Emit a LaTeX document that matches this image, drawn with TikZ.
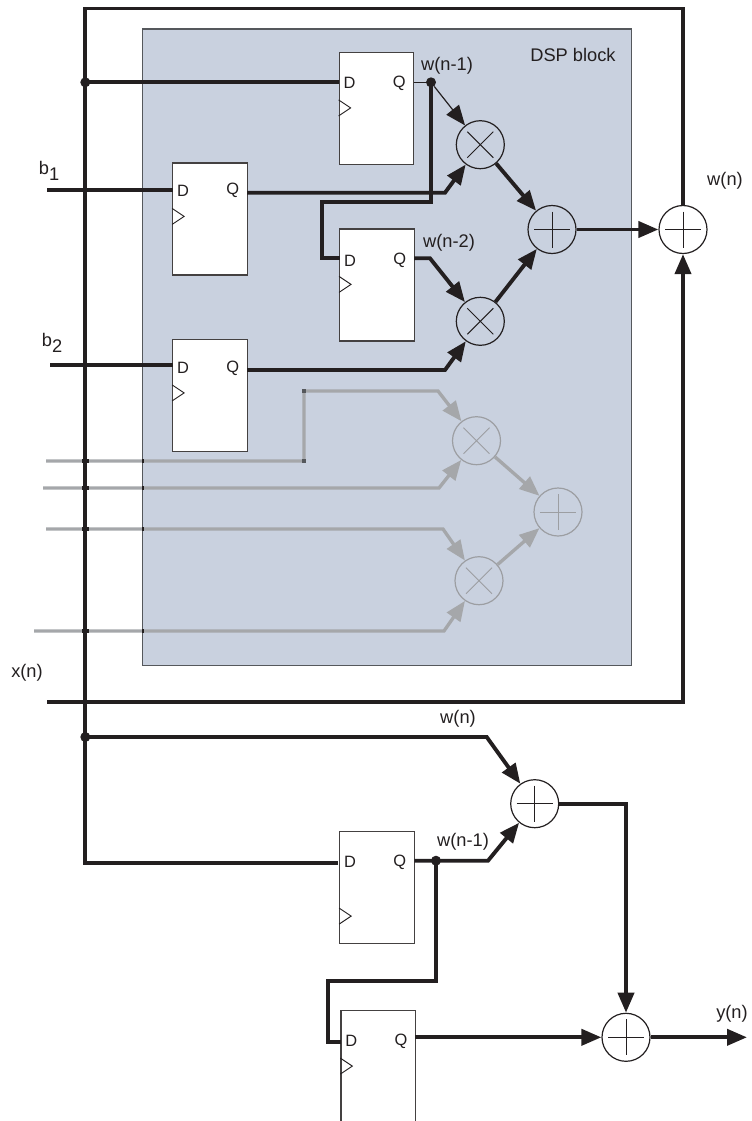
\documentclass[tikz,border=0pt]{standalone}
\usepackage{fontspec}
\setmainfont{Liberation Sans}
\usepackage{tikz}
\usetikzlibrary{arrows.meta,calc}
\definecolor{ink}{HTML}{231F20}
\definecolor{dspfill}{HTML}{C9D1DF}
\definecolor{dspedge}{HTML}{55585C}
\definecolor{ghost}{HTML}{A5A7AA}
\definecolor{ghostline}{HTML}{9C9EA2}
\newcommand{\lowdigit}[1]{\raisebox{-5pt}{#1}}

\begin{document}
\begin{tikzpicture}[x=0.75pt,y=-0.75pt,
  ff/.style={rectangle,draw=ink!85,line width=0.9pt,fill=white,minimum width=55.9pt,
             minimum height=84pt,inner sep=0pt},
  pin/.style={font=\fontsize{12.3}{13}\selectfont,text=ink,inner sep=0pt},
  sig/.style={font=\fontsize{13.7}{15}\selectfont,text=ink,inner sep=0pt},
  mult/.style={circle,draw=#1,line width=0.9pt,minimum size=36pt,inner sep=0pt,
    path picture={\draw[#1,line width=0.7pt] ($(path picture bounding box.center)+(-13,-13)$) -- ++(26,26)
      ($(path picture bounding box.center)+(13,-13)$) -- ++(-26,26);}},
  addr/.style={circle,draw=#1,line width=0.9pt,minimum size=36pt,inner sep=0pt,
    path picture={\draw[#1,line width=0.7pt] ($(path picture bounding box.center)+(-18,0)$) -- ++(36,0)
      ($(path picture bounding box.center)+(0,-18)$) -- ++(0,36);}},
  wiredot/.style={circle,fill=ink,minimum size=7.5pt,inner sep=0pt},
  wire/.style={ink,line width=2.9pt},
  thinwire/.style={ink,line width=0.9pt},
  dimwire/.style={ghost,line width=2.5pt},
  tip/.style={-{Triangle[length=15pt,width=12pt]}},
  dimtip/.style={-{Triangle[length=15pt,width=12pt]}}]

\useasboundingbox (0,0) rectangle (752,1121);

\node[rectangle,fill=dspfill,minimum width=366.4pt,minimum height=477pt,inner sep=0pt] (dsp) at (387.2,347.2) {};
\node[sig] (dsplabel) at (573,55) {DSP block};

% faded channel
\node[mult=ghostline] (gma) at (476.5,440.7) {};
\node[mult=ghostline] (gmb) at (479,580.7) {};
\node[addr=ghostline] (gad) at (558,512) {};

\coordinate (ga0) at (46,461);
\coordinate (ga1) at (304,461);
\coordinate (ga2) at (304,391);
\coordinate (ga3) at (438,391);
\coordinate (gb0) at (43,488);
\coordinate (gb1) at (439,488);
\coordinate (gc0) at (46,529);
\coordinate (gc1) at (443,529);
\coordinate (gd0) at (34,631);
\coordinate (gd1) at (444,631);

\draw[dimwire,dimtip] (ga0) -- (ga1) -- (ga2) -- (ga3) -- (gma);
\draw[dimwire,dimtip] (gb0) -- (gb1) -- (gma);
\draw[dimwire,dimtip] (gc0) -- (gc1) -- (gmb);
\draw[dimwire,dimtip] (gd0) -- (gd1) -- (gmb);
\draw[dimwire,dimtip] (gma) -- (gad);
\draw[dimwire,dimtip] (gmb) -- (gad);

\draw[dspedge,line width=0.9pt] (dsp.north west) rectangle (dsp.south east);

% dark spots where the faded wires cross
\foreach \row in {461,488,529,631} {
  \fill[ink] (82,\row-2) rectangle (88.6,\row+2);
  \fill[ink] (142,\row-2) rectangle (144.4,\row+2);
}
\fill[dspedge] (302,459) rectangle (306,463);
\fill[dspedge] (302,389) rectangle (306,393);

% registers
\node[ff] (ffa) at (376.5,108.5) {};
\node[ff] (ffb) at (210,219) {};
\node[ff] (ffc) at (376.9,285) {};
\node[ff] (ffd) at (210,395.5) {};
\node[ff] (ffe) at (377,887.7) {};
\node[ff] (fff) at (378.2,1066.7) {};

\foreach \reg/\pinrow/\clkrow in {ffa/31/56,ffb/28/54,ffc/32/56,ffd/29/54,ffe/31/85,fff/31/56} {
  \node[pin] (\reg-D) at ($(\reg.north west)+(11,\pinrow)$) {D};
  \node[pin] (\reg-Q) at ($(\reg.north east)+(-15,\pinrow)$) {Q};
  \draw[ink,line width=0.7pt] ($(\reg.north west)+(0,\clkrow-8)$) -- ++(12,8) -- ++(-12,8);
}

\node[mult=ink] (ma) at (480.3,144.7) {};
\node[mult=ink] (mb) at (480.3,321.3) {};
\node[addr=ink] (ada) at (552,229.5) {};
\node[addr=ink] (adb) at (683,229.5) {};
\node[addr=ink] (adc) at (534.7,803.7) {};
\node[addr=ink] (add) at (626,1037.3) {};

\node[wiredot] (tapa) at (85.3,82.3) {};
\node[wiredot] (tapb) at (431,82.3) {};
\node[wiredot] (tapc) at (85.3,737) {};
\node[wiredot] (tapd) at (436,860.7) {};

\coordinate (topl) at (85.3,8.5);
\coordinate (topr) at (683,8.5);
\coordinate (lowl) at (85.3,863);
\coordinate (ffeD) at (337.7,863);
\coordinate (ffaD) at (339.3,82.3);
\coordinate (ffaQ) at (413.7,82.3);
\coordinate (bone) at (47,190);
\coordinate (ffbD) at (173,190);
\coordinate (ffbQ) at (247,192.7);
\coordinate (ffbK) at (445,192.7);
\coordinate (btwo) at (50,365);
\coordinate (ffdD) at (172.6,365);
\coordinate (ffdQ) at (247,370);
\coordinate (ffdK) at (445,370);
\coordinate (loopa) at (431,202.3);
\coordinate (loopb) at (321.7,202.3);
\coordinate (loopc) at (321.7,258.3);
\coordinate (ffcD) at (339.7,258.3);
\coordinate (ffcQ) at (414,258.3);
\coordinate (ffcK) at (430,258.3);
\coordinate (xin) at (47,702);
\coordinate (xend) at (683,702);
\coordinate (wkink) at (486.7,737);
\coordinate (ffeQ) at (414.3,860.7);
\coordinate (ffeK) at (488,860.7);
\coordinate (lowa) at (436,980.7);
\coordinate (lowb) at (328,980.7);
\coordinate (lowc) at (328,1041.7);
\coordinate (fffD) at (341,1041.7);
\coordinate (fffQ) at (415.3,1037.3);
\coordinate (adck) at (626,803.7);
\coordinate (yout) at (747,1037.3);

\draw[wire] (adb) -- (topr) -- (topl) -- (lowl) -- (ffeD);
\draw[wire] (tapa.center) -- (ffaD);
\draw[wire] (bone) -- (ffbD);
\draw[wire] (btwo) -- (ffdD);
\draw[wire,tip] (ffbQ) -- (ffbK) -- (ma);
\draw[wire,tip] (ffdQ) -- (ffdK) -- (mb);
\draw[wire] (tapb.center) -- (loopa) -- (loopb) -- (loopc) -- (ffcD);
\draw[wire,tip] (ffcQ) -- (ffcK) -- (mb);
\draw[thinwire] (ffaQ) -- (tapb.center);
\draw[thinwire,tip] (tapb) -- (ma);
\draw[wire,tip] (ma) -- (ada);
\draw[wire,tip] (mb) -- (ada);
\draw[wire,tip] (ada) -- (adb);
\draw[wire,tip] (xin) -- (xend) -- (adb);
\draw[wire,tip] (tapc.center) -- (wkink) -- (adc);
\draw[wire,tip] (ffeQ) -- (ffeK) -- (adc);
\draw[wire] (tapd.center) -- (lowa) -- (lowb) -- (lowc) -- (fffD);
\draw[wire,tip] (adc) -- (adck) -- (add);
\draw[wire,tip] (fffQ) -- (add);
\draw[wire,tip] (add) -- (yout);

\node[sig] (lbone) at (49,171) {b\lowdigit{1}};
\node[sig] (lbtwo) at (52,343) {b\lowdigit{2}};
\node[sig] (lxn) at (27,673) {x(n)};
\node[sig] (lwa) at (447,66) {w(n-1)};
\node[sig] (lwb) at (449,243) {w(n-2)};
\node[sig] (lwn) at (725,181) {w(n)};
\node[sig] (lwc) at (458,719) {w(n)};
\node[sig] (lwd) at (463,842) {w(n-1)};
\node[sig] (lyn) at (732,1014) {y(n)};
\end{tikzpicture}
\end{document}
